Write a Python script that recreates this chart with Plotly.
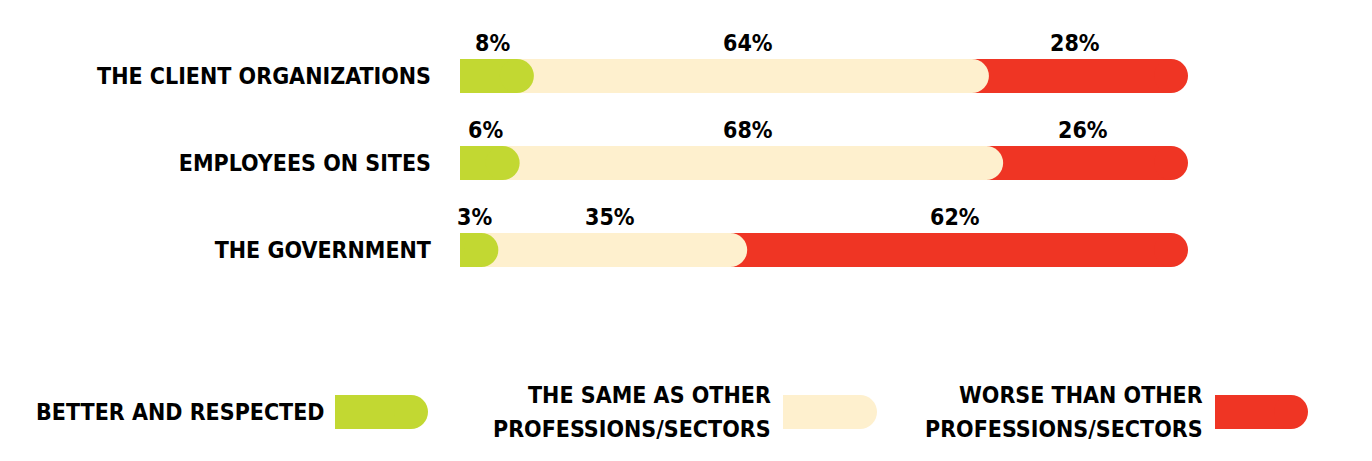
import plotly.graph_objects as go

categories = ["THE CLIENT ORGANIZATIONS", "EMPLOYEES ON SITES", "THE GOVERNMENT"]
better = [8, 6, 3]
same = [64, 68, 35]
worse = [28, 26, 62]

series_names = [["BETTER AND RESPECTED"],
                ["THE SAME AS OTHER", "PROFESSIONS/SECTORS"],
                ["WORSE THAN OTHER", "PROFESSIONS/SECTORS"]]

COLORS = {'better': '#C2D832', 'same': '#FEF0CE', 'worse': '#EF3524'}
FONT = 'Liberation Sans Narrow, DejaVu Sans Condensed, Roboto Condensed, Liberation Sans, sans-serif'

W, H = 1372, 461
OFF = 8  # page body margin
BAR_PX = 34


def px_x(v):
    return (v - OFF) / W


def px_y(v):
    return 1 - (v - OFF) / H


series = [better, same, worse]
keys = ['better', 'same', 'worse']

starts, ends = [], []
run = [0] * len(categories)
for vals in series:
    starts.append(list(run))
    run = [r + v for r, v in zip(run, vals)]
    ends.append(list(run))

fig = go.Figure()

for vals, key in zip(series, keys):
    fig.add_trace(go.Bar(
        y=categories, x=vals, orientation='h',
        marker={'color': COLORS[key], 'line': {'width': 0}},
        showlegend=False, hoverinfo='skip'
    ))

# rounded right ends, drawn worst -> best so each cap sits on the next segment
for idx in [2, 1, 0]:
    fig.add_trace(go.Scatter(
        y=categories, x=ends[idx], mode='markers',
        marker={'symbol': 'circle', 'size': BAR_PX, 'color': COLORS[keys[idx]], 'line': {'width': 0}},
        cliponaxis=False, showlegend=False, hoverinfo='skip'
    ))

label_font = {'family': FONT, 'size': 23, 'color': '#000000', 'weight': 'bold'}

annotations = []
for idx, vals in enumerate(series):
    for cat, s, e, v in zip(categories, starts[idx], ends[idx], vals):
        annotations.append(dict(
            x=(s + e) / 2, y=cat, xref='x', yref='y',
            text=f"{v}%", showarrow=False, xshift=4, yshift=33,
            font=label_font
        ))

# legend: label right-aligned next to a rounded pill
legend_items = [(327, 335, 428), (773, 783, 877), (1205, 1215, 1308)]
legend_y = 412
line_gap = 34
shapes = []
for (txt_right, x0, x1), lines, key in zip(legend_items, series_names, keys):
    first = legend_y - (len(lines) - 1) * line_gap / 2
    for i, line in enumerate(lines):
        annotations.append(dict(
            x=px_x(txt_right), y=px_y(first + i * line_gap), xref='paper', yref='paper',
            xanchor='right', yanchor='middle', align='right', showarrow=False,
            text=line, font=label_font
        ))
    r = BAR_PX / 2
    shapes.append(dict(type='rect', xref='paper', yref='paper',
                       x0=px_x(x0), x1=px_x(x1 - r), y0=px_y(legend_y + r), y1=px_y(legend_y - r),
                       fillcolor=COLORS[key], line={'width': 0}, layer='below'))
    shapes.append(dict(type='circle', xref='paper', yref='paper',
                       x0=px_x(x1 - 2 * r), x1=px_x(x1), y0=px_y(legend_y + r), y1=px_y(legend_y - r),
                       fillcolor=COLORS[key], line={'width': 0}, layer='below'))

fig.update_layout(
    barmode='stack', bargap=1 - BAR_PX / 87,
    width=W, height=H,
    plot_bgcolor='white', paper_bgcolor='white',
    margin={'l': 0, 'r': 0, 't': 0, 'b': 0},
    xaxis={'domain': [px_x(460), px_x(1171)], 'range': [0, 100],
           'showgrid': False, 'zeroline': False, 'showticklabels': False, 'showline': False},
    yaxis={'domain': [px_y(293.5), px_y(32.5)], 'range': [2.5, -0.5],
           'showgrid': False, 'zeroline': False, 'showline': False, 'ticks': '',
           'automargin': False, 'ticklabelstandoff': 28,
           'tickfont': label_font},
    annotations=annotations, shapes=shapes,
    showlegend=False
)

fig.write_html("out.html")
